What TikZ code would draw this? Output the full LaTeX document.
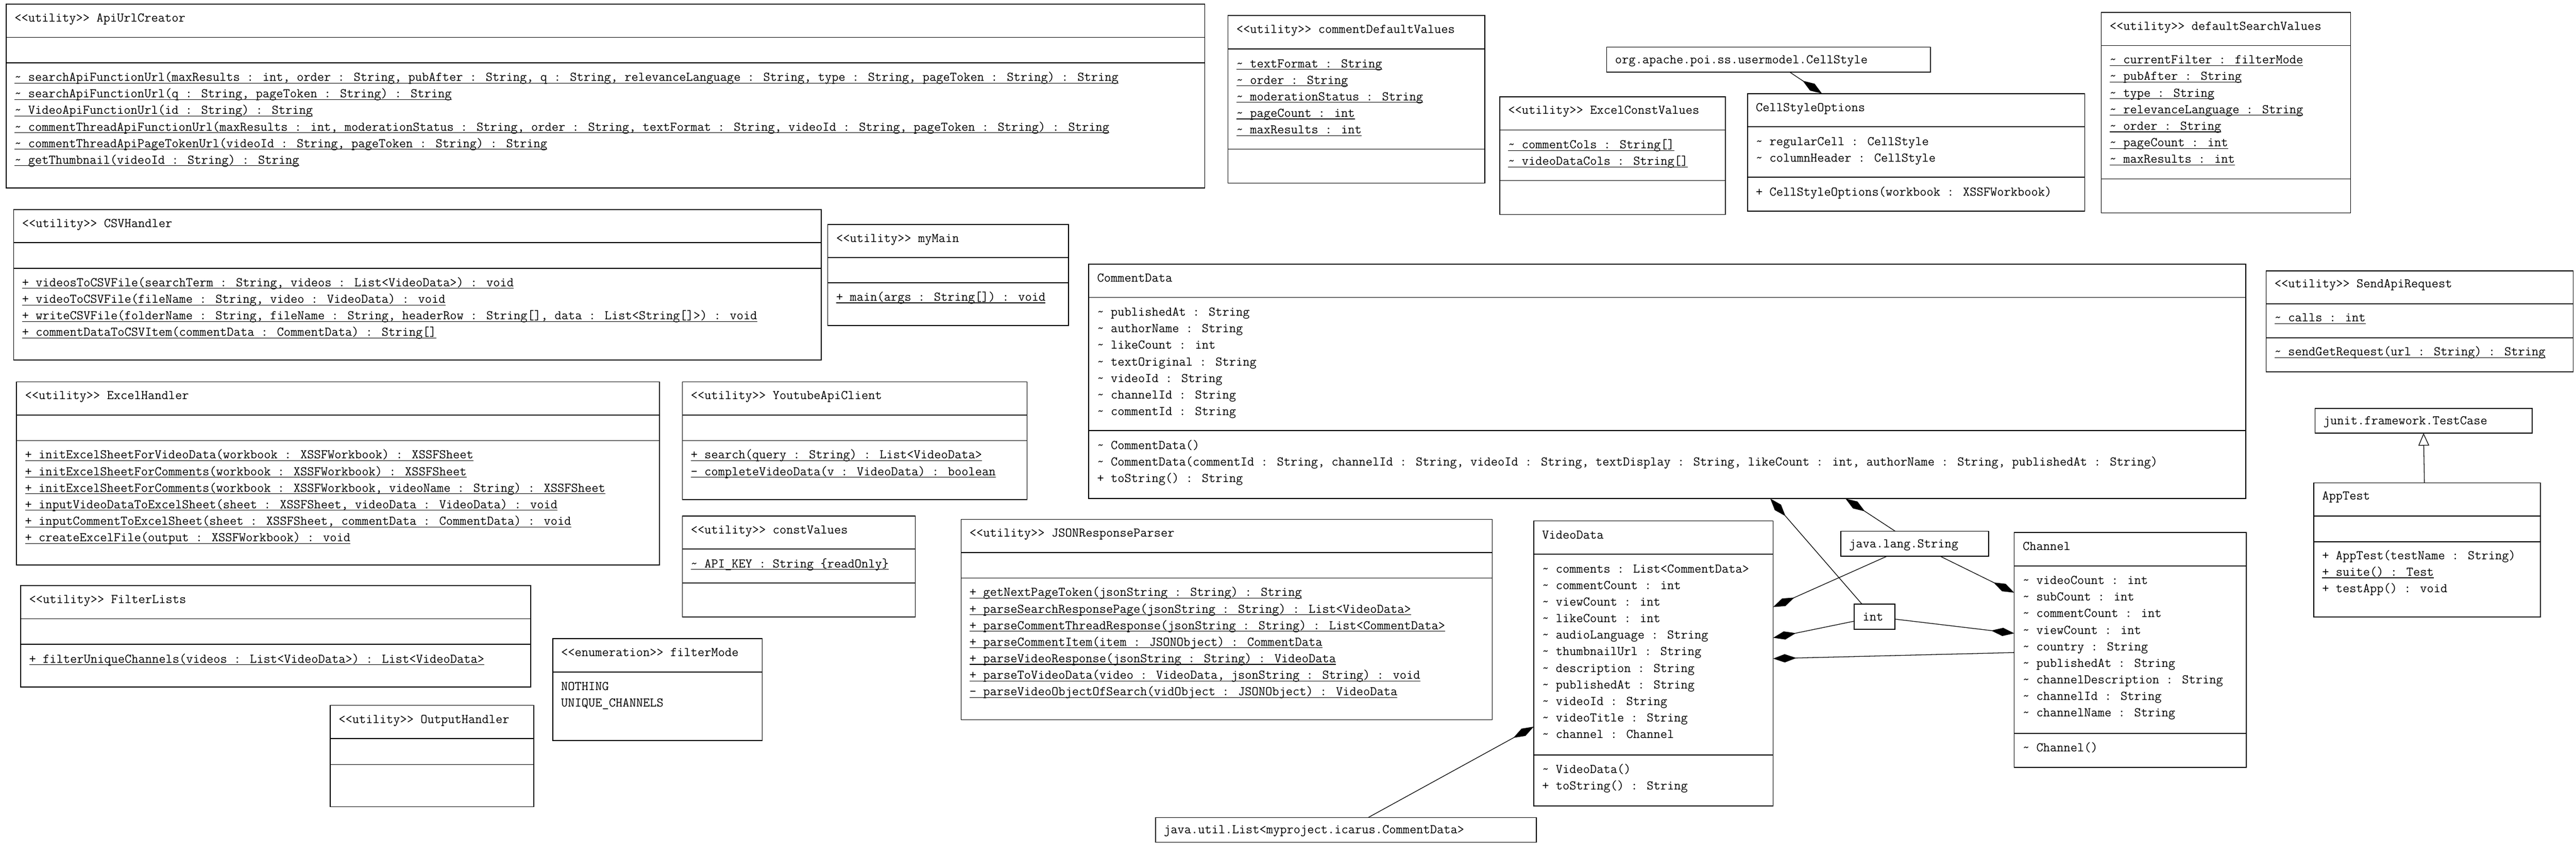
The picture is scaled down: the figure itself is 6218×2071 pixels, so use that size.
\documentclass[tikz,border=0pt]{standalone}
\usepackage{fontspec}
\usetikzlibrary{arrows.meta,calc}
\newcommand\tld{\textasciitilde\space}
\newcommand\myul[1]{\setbox0=\hbox{#1}\rlap{\rule[-2.5pt]{\wd0}{0.7pt}}\box0}
\tikzset{
  classbox/.style={draw, line width=1pt, rectangle, inner sep=0pt, outer sep=0pt},
  sep/.style={line width=1pt},
  txt/.style={anchor=base west, inner sep=0pt, yshift=-4.5pt, font=\ttfamily\fontsize{16pt}{18pt}\selectfont},
  conn/.style={line width=0.8pt, line join=miter},
  comp/.style={conn, -{Diamond[length=28pt,width=10pt]}},
  inh/.style={conn, -{Triangle[open,length=15pt,width=13pt,fill=white]}}
}
% name, x1, x2, top, header line, attribute line (may be empty), bottom
\newcommand\umlclass[7]{%
  \pgfmathsetmacro\bw{(#3-#2)*0.5}%
  \pgfmathsetmacro\bh{(#7-#4)*0.5}%
  \node[classbox, minimum width=\bw pt, minimum height=\bh pt] (#1) at ({(#2+#3)/2},{(#4+#7)/2}) {};
  \draw[sep] (#2,#5) -- (#3,#5);
  \ifx\relax#6\relax\else\draw[sep] (#2,#6) -- (#3,#6);\fi
}
\newcommand\classrows[4]{\foreach \rowtext [count=\ri] in {#4} {\node[txt] (#1-\ri) at (#2,{#3+(\ri-1)*40}) {\rowtext};}}
\begin{document}
\begin{tikzpicture}[x=0.5pt,y=-0.5pt]
\path[use as bounding box, fill=white] (0,0) rectangle (6218,2071);

% ApiUrlCreator
\umlclass{api}{15}{2908}{10}{90}{152}{454}
\node[txt] (api-name) at (35,44) {<<utility>> ApiUrlCreator};
\classrows{api}{35}{187}{%
{\myul{\tld searchApiFunctionUrl(maxResults : int, order : String, pubAfter : String, q : String, relevanceLanguage : String, type : String, pageToken : String) : String}},%
{\myul{\tld searchApiFunctionUrl(q : String, pageToken : String) : String}},%
{\myul{\tld VideoApiFunctionUrl(id : String) : String}},%
{\myul{\tld commentThreadApiFunctionUrl(maxResults : int, moderationStatus : String, order : String, textFormat : String, videoId : String, pageToken : String) : String}},%
{\myul{\tld commentThreadApiPageTokenUrl(videoId : String, pageToken : String) : String}},%
{\myul{\tld getThumbnail(videoId : String) : String}}}

% commentDefaultValues
\umlclass{cdv}{2964}{3584}{37}{118}{360}{442}
\node[txt] (cdv-name) at (2984,71) {<<utility>> commentDefaultValues};
\classrows{cdv}{2984}{154}{%
{\myul{\tld textFormat : String}},%
{\myul{\tld order : String}},%
{\myul{\tld moderationStatus : String}},%
{\myul{\tld pageCount : int}},%
{\myul{\tld maxResults : int}}}

% CellStyle
\node[classbox, minimum width=391pt, minimum height=30pt] (cs) at (4269,144) {};
\node[txt] (cs-name) at (3898,144) {org.apache.poi.ss.usermodel.CellStyle};

% ExcelConstValues
\umlclass{ecv}{3620}{4165}{234}{314}{436}{518}
\node[txt] (ecv-name) at (3640,267) {<<utility>> ExcelConstValues};
\classrows{ecv}{3640}{350}{%
{\myul{\tld commentCols : String[]}},%
{\myul{\tld videoDataCols : String[]}}}

% CellStyleOptions
\umlclass{cso}{4218}{5032}{226}{306}{428}{510}
\node[txt] (cso-name) at (4238,260) {CellStyleOptions};
\classrows{cso}{4238}{342}{%
{\tld regularCell : CellStyle},%
{\tld columnHeader : CellStyle}}
\node[txt] (cso-m1) at (4238,464) {+ CellStyleOptions(workbook : XSSFWorkbook)};

% defaultSearchValues
\umlclass{dsv}{5072}{5674}{30}{110}{432}{514}
\node[txt] (dsv-name) at (5092,64) {<<utility>> defaultSearchValues};
\classrows{dsv}{5092}{145}{%
{\myul{\tld currentFilter : filterMode}},%
{\myul{\tld pubAfter : String}},%
{\myul{\tld type : String}},%
{\myul{\tld relevanceLanguage : String}},%
{\myul{\tld order : String}},%
{\myul{\tld pageCount : int}},%
{\myul{\tld maxResults : int}}}

% CSVHandler
\umlclass{csv}{33}{1982}{506}{586}{648}{869}
\node[txt] (csv-name) at (53,540) {<<utility>> CSVHandler};
\classrows{csv}{53}{683}{%
{\myul{+ videosToCSVFile(searchTerm : String, videos : List<VideoData>) : void}},%
{\myul{+ videoToCSVFile(fileName : String, video : VideoData) : void}},%
{\myul{+ writeCSVFile(folderName : String, fileName : String, headerRow : String[], data : List<String[]>) : void}},%
{\myul{+ commentDataToCSVItem(commentData : CommentData) : String[]}}}

% myMain
\umlclass{mm}{1998}{2579}{542}{622}{683}{786}
\node[txt] (mm-name) at (2018,576) {<<utility>> myMain};
\node[txt] (mm-1) at (2018,718) {\myul{+ main(args : String[]) : void}};

% ExcelHandler
\umlclass{eh}{40}{1592}{922}{1002}{1064}{1364}
\node[txt] (eh-name) at (60,955) {<<utility>> ExcelHandler};
\classrows{eh}{60}{1099}{%
{\myul{+ initExcelSheetForVideoData(workbook : XSSFWorkbook) : XSSFSheet}},%
{\myul{+ initExcelSheetForComments(workbook : XSSFWorkbook) : XSSFSheet}},%
{\myul{+ initExcelSheetForComments(workbook : XSSFWorkbook, videoName : String) : XSSFSheet}},%
{\myul{+ inputVideoDataToExcelSheet(sheet : XSSFSheet, videoData : VideoData) : void}},%
{\myul{+ inputCommentToExcelSheet(sheet : XSSFSheet, commentData : CommentData) : void}},%
{\myul{+ createExcelFile(output : XSSFWorkbook) : void}}}

% YoutubeApiClient
\umlclass{yac}{1647}{2479}{922}{1002}{1064}{1206}
\node[txt] (yac-name) at (1667,955) {<<utility>> YoutubeApiClient};
\classrows{yac}{1667}{1099}{%
{\myul{+ search(query : String) : List<VideoData>}},%
{\myul{- completeVideoData(v : VideoData) : boolean}}}

% constValues
\umlclass{cv}{1647}{2209}{1246}{1326}{1408}{1490}
\node[txt] (cv-name) at (1667,1280) {<<utility>> constValues};
\node[txt] (cv-1) at (1667,1362) {\myul{\tld API\_KEY : String \{readOnly\}}};

% JSONResponseParser
\umlclass{jrp}{2320}{3602}{1254}{1334}{1396}{1738}
\node[txt] (jrp-name) at (2340,1288) {<<utility>> JSONResponseParser};
\classrows{jrp}{2340}{1431}{%
{\myul{+ getNextPageToken(jsonString : String) : String}},%
{\myul{+ parseSearchResponsePage(jsonString : String) : List<VideoData>}},%
{\myul{+ parseCommentThreadResponse(jsonString : String) : List<CommentData>}},%
{\myul{+ parseCommentItem(item : JSONObject) : CommentData}},%
{\myul{+ parseVideoResponse(jsonString : String) : VideoData}},%
{\myul{+ parseToVideoData(video : VideoData, jsonString : String) : void}},%
{\myul{- parseVideoObjectOfSearch(vidObject : JSONObject) : VideoData}}}

% FilterLists
\umlclass{fl}{50}{1281}{1414}{1494}{1556}{1659}
\node[txt] (fl-name) at (70,1448) {<<utility>> FilterLists};
\node[txt] (fl-1) at (70,1592) {\myul{+ filterUniqueChannels(videos : List<VideoData>) : List<VideoData>}};

% filterMode
\umlclass{fm}{1334}{1840}{1542}{1623}{}{1788}
\node[txt] (fm-name) at (1354,1576) {<<enumeration>> filterMode};
\classrows{fm}{1354}{1658}{NOTHING,UNIQUE\_CHANNELS}

% OutputHandler
\umlclass{oh}{797}{1288}{1703}{1783}{1846}{1948}
\node[txt] (oh-name) at (817,1737) {<<utility>> OutputHandler};

% CommentData
\umlclass{cd}{2628}{5421}{638}{718}{1040}{1204}
\node[txt] (cd-name) at (2648,672) {CommentData};
\classrows{cd}{2648}{754}{%
{\tld publishedAt : String},%
{\tld authorName : String},%
{\tld likeCount : int},%
{\tld textOriginal : String},%
{\tld videoId : String},%
{\tld channelId : String},%
{\tld commentId : String}}
\classrows{cdm}{2648}{1076}{%
{\tld CommentData()},%
{\tld CommentData(commentId : String, channelId : String, videoId : String, textDisplay : String, likeCount : int, authorName : String, publishedAt : String)},%
{+ toString() : String}}

% VideoData
\umlclass{vd}{3702}{4280}{1258}{1338}{1823}{1946}
\node[txt] (vd-name) at (3722,1292) {VideoData};
\classrows{vd}{3722}{1374}{%
{\tld comments : List<CommentData>},%
{\tld commentCount : int},%
{\tld viewCount : int},%
{\tld likeCount : int},%
{\tld audioLanguage : String},%
{\tld thumbnailUrl : String},%
{\tld description : String},%
{\tld publishedAt : String},%
{\tld videoId : String},%
{\tld videoTitle : String},%
{\tld channel : Channel}}
\classrows{vdm}{3722}{1858}{%
{\tld VideoData()},%
{+ toString() : String}}

% java.lang.String
\node[classbox, minimum width=178.5pt, minimum height=30pt] (js) at (4621.5,1313) {};
\node[txt] (js-name) at (4463,1313) {java.lang.String};

% int
\node[classbox, minimum width=49pt, minimum height=30.5pt] (intb) at (4525,1489.5) {};
\node[txt] (intb-name) at (4496,1490) {int};

% Channel
\umlclass{ch}{4862}{5422}{1286}{1367}{1771}{1853}
\node[txt] (ch-name) at (4882,1320) {Channel};
\classrows{ch}{4882}{1402}{%
{\tld videoCount : int},%
{\tld subCount : int},%
{\tld commentCount : int},%
{\tld viewCount : int},%
{\tld country : String},%
{\tld publishedAt : String},%
{\tld channelDescription : String},%
{\tld channelId : String},%
{\tld channelName : String}}
\node[txt] (chm-1) at (4882,1806) {\tld Channel()};

% SendApiRequest
\umlclass{sar}{5470}{6211}{654}{734}{816}{898}
\node[txt] (sar-name) at (5490,686) {<<utility>> SendApiRequest};
\node[txt] (sar-1) at (5490,768) {\myul{\tld calls : int}};
\node[txt] (sar-2) at (5490,850) {\myul{\tld sendGetRequest(url : String) : String}};

% junit.framework.TestCase
\node[classbox, minimum width=262pt, minimum height=30pt] (tc) at (5850,1016) {};
\node[txt] (tc-name) at (5608,1016) {junit.framework.TestCase};

% AppTest
\umlclass{apptest}{5585}{6132}{1166}{1246}{1308}{1490}
\node[txt] (apptest-name) at (5605,1198) {AppTest};
\classrows{apptest}{5605}{1342}{%
{+ AppTest(testName : String)},%
{\myul{+ suite() : Test}},%
{+ testApp() : void}}

% java.util.List box
\node[classbox, minimum width=459.5pt, minimum height=30pt] (lb) at (3248.5,2004) {};
\node[txt] (lb-name) at (2809,2004) {java.util.List<myproject.icarus.CommentData>};

% connectors
\draw[comp] ($(intb.north west)!0.19!(intb.north east)$) -- ($(cd.south west)!0.589!(cd.south east)$);
\draw[comp] ($(js.north west)!0.37!(js.north east)$) -- ($(cd.south west)!0.654!(cd.south east)$);
\draw[comp] ($(js.south west)!0.314!(js.south east)$) -- ($(vd.north east)!0.302!(vd.south east)$);
\draw[comp] ($(js.south west)!0.672!(js.south east)$) -- ($(ch.north west)!0.256!(ch.south west)$);
\draw[comp] ($(intb.north west)!0.67!(intb.south west)$) -- ($(vd.north east)!0.41!(vd.south east)$);
\draw[comp] ($(intb.north east)!0.59!(intb.south east)$) -- ($(ch.north west)!0.429!(ch.south west)$);
\draw[comp] ($(ch.north west)!0.511!(ch.south west)$) -- ($(vd.north east)!0.483!(vd.south east)$);
\draw[comp] ($(lb.north west)!0.559!(lb.north east)$) -- ($(vd.north west)!0.722!(vd.south west)$);
\draw[comp] ($(cs.south west)!0.565!(cs.south east)$) -- ($(cso.north west)!0.221!(cso.north east)$);
\draw[inh] ($(apptest.north west)!0.488!(apptest.north east)$) -- ($(tc.south west)!0.5!(tc.south east)$);
\end{tikzpicture}
\end{document}
